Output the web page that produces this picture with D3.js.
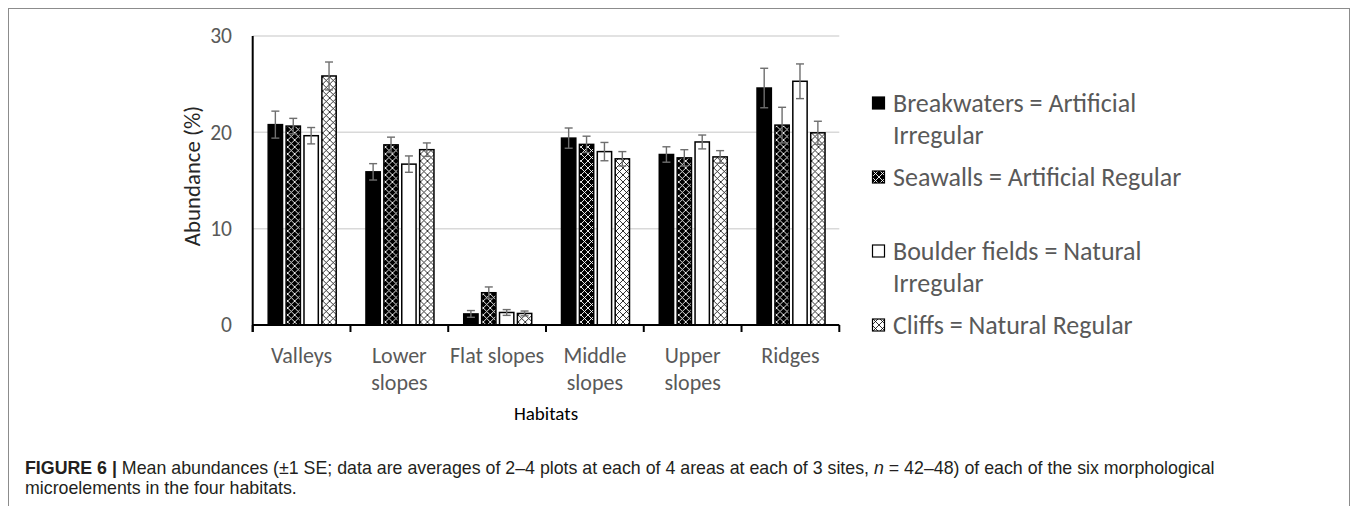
<!DOCTYPE html>
<html>
<head>
<meta charset="utf-8">
<script src="https://cdn.jsdelivr.net/npm/d3@7/dist/d3.min.js"></script>
<style>
  html, body { margin: 0; padding: 0; background: #fff; }
  svg { display: block; }
</style>
</head>
<body>
<svg id="chart" width="1358" height="506"></svg>
<script>
// Habitat categories (multi-line labels on the x axis)
const categories = ["Valleys", "Lower slopes", "Flat slopes", "Middle slopes", "Upper slopes", "Ridges"];
const categoryLines = [["Valleys"], ["Lower", "slopes"], ["Flat slopes"], ["Middle", "slopes"], ["Upper", "slopes"], ["Ridges"]];

// Mean abundance (%) and ±1 SE for each microelement type
const seriesNames = ["Breakwaters", "Seawalls", "Boulder fields", "Cliffs"];
const breakwaters   = [20.8, 15.9, 1.15, 19.4, 17.7, 24.6];
const breakwatersSE = [1.4, 0.85, 0.35, 1.05, 0.8, 2.05];
const seawalls      = [20.65, 18.7, 3.35, 18.75, 17.35, 20.75];
const seawallsSE    = [0.8, 0.8, 0.6, 0.85, 0.85, 1.85];
const boulders      = [19.65, 16.7, 1.3, 18.0, 19.0, 25.3];
const bouldersSE    = [0.85, 0.85, 0.3, 0.95, 0.72, 1.8];
const cliffs        = [25.85, 18.2, 1.2, 17.25, 17.45, 19.95];
const cliffsSE      = [1.45, 0.7, 0.25, 0.75, 0.65, 1.2];

const yTicks = [0, 10, 20, 30];
const legendLines = [
  ["Breakwaters = Artificial", "Irregular"],
  ["Seawalls = Artificial Regular"],
  ["Boulder fields = Natural", "Irregular"],
  ["Cliffs = Natural Regular"]
];
const axisTitleY = "Abundance (%)";
const axisTitleX = "Habitats";
const captionBold = "FIGURE 6 | ";
const captionLine1a = "Mean abundances (±1 SE; data are averages of 2–4 plots at each of 4 areas at each of 3 sites, ";
const captionItalic = "n";
const captionLine1b = " = 42–48) of each of the six morphological";
const captionLine2 = "microelements in the four habitats.";

const values = [breakwaters, seawalls, boulders, cliffs];
const errors = [breakwatersSE, seawallsSE, bouldersSE, cliffsSE];
const fills = ["#000", "url(#hatchDark)", "#fff", "url(#hatchLight)"];

const FONT = "Carlito, Lato, 'Open Sans', sans-serif";
const svg = d3.select("#chart");

// Fill patterns: diamond lattice, white on black and black on white
const defs = svg.append("defs");
function lattice(id, bg, fg, w) {
  const p = defs.append("pattern").attr("id", id)
    .attr("patternUnits", "userSpaceOnUse").attr("width", 7).attr("height", 7);
  p.append("rect").attr("width", 7).attr("height", 7).attr("fill", bg);
  p.append("path").attr("d", "M0,0L7,7M7,0L0,7M-1,6L1,8M6,-1L8,1M-1,1L1,-1M6,8L8,6")
    .attr("stroke", fg).attr("stroke-width", w);
}
lattice("hatchDark", "#000", "#fff", 0.9);
lattice("hatchLight", "#fff", "#000", 0.8);

// Figure frame
svg.append("rect").attr("x", 8.5).attr("y", 8.5).attr("width", 1341).attr("height", 520)
  .attr("fill", "none").attr("stroke", "#8c8c8c").attr("stroke-width", 1);

const plotLeft = 252.7, plotRight = 839.3, plotTop = 36, plotBottom = 325;
const y = d3.scaleLinear().domain([0, 30]).range([plotBottom, plotTop]);
const x0 = d3.scaleBand().domain(categories).range([plotLeft, plotRight]);
const x1 = d3.scaleBand().domain(seriesNames).range([15.5, 83.5]).paddingInner(0.2);

// Gridlines
svg.append("g").selectAll("line").data(yTicks.filter(d => d > 0)).join("line")
  .attr("x1", plotLeft).attr("x2", plotRight)
  .attr("y1", d => y(d)).attr("y2", d => y(d))
  .attr("stroke", "#d9d9d9").attr("stroke-width", 1.5);

// Y axis tick labels
const yAxis = d3.axisLeft(y).tickValues(yTicks).tickSize(0).tickPadding(0);
const gy = svg.append("g").attr("transform", `translate(232,0)`).call(yAxis);
gy.select(".domain").remove();
gy.selectAll("text").attr("font-family", FONT).attr("font-size", 21.5).attr("fill", "#595959");

// Bars
const groups = svg.append("g").selectAll("g").data(categories).join("g")
  .attr("transform", d => `translate(${x0(d)},0)`);
groups.each(function(cat, ci) {
  const g = d3.select(this);
  seriesNames.forEach((s, si) => {
    const v = values[si][ci];
    g.append("rect")
      .attr("x", x1(s)).attr("width", x1.bandwidth())
      .attr("y", y(v)).attr("height", y(0) - y(v))
      .attr("fill", fills[si]).attr("stroke", "#000").attr("stroke-width", 1.5);
  });
  seriesNames.forEach((s, si) => {
    const v = values[si][ci], e = errors[si][ci];
    const cx = x1(s) + x1.bandwidth() / 2;
    const eg = g.append("g").attr("stroke", "#6e6e6e").attr("stroke-width", 1.4);
    eg.append("line").attr("x1", cx).attr("x2", cx).attr("y1", y(v + e)).attr("y2", y(v - e));
    eg.append("line").attr("x1", cx - 4).attr("x2", cx + 4).attr("y1", y(v + e)).attr("y2", y(v + e));
    eg.append("line").attr("x1", cx - 4).attr("x2", cx + 4).attr("y1", y(v - e)).attr("y2", y(v - e));
  });
});

// Axis lines and category boundary ticks
svg.append("line").attr("x1", plotLeft).attr("x2", plotLeft).attr("y1", plotTop).attr("y2", plotBottom + 7)
  .attr("stroke", "#000").attr("stroke-width", 2);
svg.append("line").attr("x1", plotLeft).attr("x2", plotRight).attr("y1", plotBottom).attr("y2", plotBottom)
  .attr("stroke", "#000").attr("stroke-width", 2);
const bounds = categories.map(c => x0(c)).concat([x0.range()[1]]);
svg.append("g").selectAll("line").data(bounds).join("line")
  .attr("x1", d => d).attr("x2", d => d).attr("y1", plotBottom).attr("y2", plotBottom + 7)
  .attr("stroke", "#000").attr("stroke-width", 2);

// Category labels
const catG = svg.append("g").selectAll("text").data(categories).join("text")
  .attr("text-anchor", "middle").attr("font-family", FONT).attr("font-size", 22).attr("fill", "#595959");
catG.each(function(c, i) {
  const t = d3.select(this);
  categoryLines[i].forEach((ln, li) => {
    t.append("tspan").attr("x", x0(c) + x0.bandwidth() / 2).attr("y", 355 + li * 27)
      .attr("dy", "0.35em").text(ln);
  });
});

// Axis titles
svg.append("text").attr("transform", "translate(192,176) rotate(-90)")
  .attr("text-anchor", "middle").attr("dy", "0.35em")
  .attr("font-family", FONT).attr("font-size", 22.8).attr("fill", "#262626").text(axisTitleY);
svg.append("text").attr("x", (plotLeft + plotRight) / 2).attr("y", 413).attr("dy", "0.35em")
  .attr("text-anchor", "middle").attr("font-family", FONT).attr("font-size", 19).attr("fill", "#000")
  .text(axisTitleX);

// Legend
const legend = svg.append("g").selectAll("g").data(seriesNames).join("g")
  .attr("transform", (d, i) => `translate(872,${103 + i * 74})`);
legend.append("rect").attr("x", 0.5).attr("y", -6).attr("width", 12).attr("height", 12)
  .attr("fill", (d, i) => fills[i]).attr("stroke", "#000").attr("stroke-width", 1.2);
legend.append("text").attr("font-family", FONT).attr("font-size", 26).attr("fill", "#595959")
  .each(function(d, i) {
    legendLines[i].forEach((ln, li) => {
      d3.select(this).append("tspan").attr("x", 21).attr("y", li * 31.5).attr("dy", "0.35em").text(ln);
    });
  });

// Caption
const CAP = "'Liberation Sans', Arial, sans-serif";
const cap1 = svg.append("text").attr("x", 25).attr("y", 474)
  .attr("font-family", CAP).attr("font-size", 17.8).attr("fill", "#231f20");
cap1.append("tspan").attr("font-weight", "bold").text(captionBold);
cap1.append("tspan").text(captionLine1a);
cap1.append("tspan").attr("font-style", "italic").text(captionItalic);
cap1.append("tspan").text(captionLine1b);
svg.append("text").attr("x", 25).attr("y", 493.5)
  .attr("font-family", CAP).attr("font-size", 17.8).attr("fill", "#231f20").text(captionLine2);
</script>
</body>
</html>
